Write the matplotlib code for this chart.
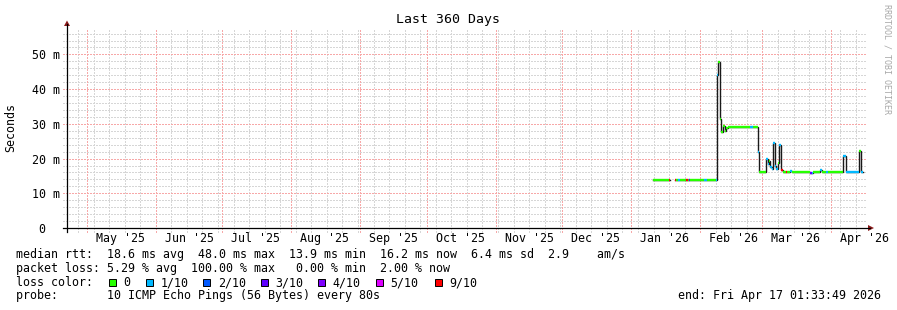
import matplotlib
matplotlib.use('Agg')
import matplotlib.pyplot as plt
import matplotlib.dates as mdates
import numpy as np
import pandas as pd
from matplotlib.lines import Line2D
from matplotlib.patches import Polygon, Rectangle

plt.rcParams['font.family'] = ['DejaVu Sans Mono']

# ---------------- data ----------------
title = "Last 360 Days"
t_start = "2025-04-22 01:33:49"
t_end = "2026-04-17 01:33:49"

# median rtt samples: start of each interval, value in ms, loss class index
sample_times = [
    "2026-01-10 15:00", "2026-01-17 18:00", "2026-01-18 10:00", "2026-01-20 16:00",
    "2026-01-21 08:00", "2026-01-22 00:00", "2026-01-22 17:00", "2026-01-25 11:00",
    "2026-01-26 07:00", "2026-01-26 18:00", "2026-01-27 10:00", "2026-02-02 17:00",
    "2026-02-04 02:00", "2026-02-08 03:00", "2026-02-08 14:00", "2026-02-09 00:00",
    "2026-02-10 03:00", "2026-02-10 14:00", "2026-02-11 06:00", "2026-02-11 23:00",
    "2026-02-12 15:00", "2026-02-13 07:00", "2026-02-23 10:00", "2026-02-24 18:00",
    "2026-02-27 00:00", "2026-02-27 11:00", "2026-03-02 15:00", "2026-03-03 07:00",
    "2026-03-03 23:00", "2026-03-04 15:00", "2026-03-05 08:00", "2026-03-05 18:00",
    "2026-03-06 16:00", "2026-03-07 08:00", "2026-03-08 00:00", "2026-03-08 14:00",
    "2026-03-09 09:00", "2026-03-10 01:00", "2026-03-11 15:00", "2026-03-12 02:00",
    "2026-03-13 10:00", "2026-03-14 08:00", "2026-03-22 10:00", "2026-03-23 08:00",
    "2026-03-23 19:00", "2026-03-26 22:00", "2026-03-27 20:00", "2026-03-29 12:00",
    "2026-03-30 10:00", "2026-04-06 09:00", "2026-04-07 14:00", "2026-04-07 23:00",
    "2026-04-13 12:00", "2026-04-14 10:00",
]
sample_end = "2026-04-15 09:00"
median_ms = [
    13.9, 13.9, np.nan, 13.9,
    13.9, 13.9, 13.9, 13.9,
    13.9, 13.9, 13.9, 13.9,
    13.9, 13.9, 44.0, 47.8,
    31.5, 27.6, 29.4, 27.8,
    28.8, 29.2, 29.2, 29.2,
    22.0, 16.2, 20.0, 18.5,
    19.3, 17.6, 17.0, 24.5,
    18.0, 17.0, 18.6, 24.0,
    16.6, 16.2, 16.2, 16.2,
    16.5, 16.2, 15.8, 15.8,
    16.2, 16.6, 16.2, 16.2,
    16.2, 20.7, 16.2, 16.2,
    22.3, 16.2,
]
loss_idx = [
    0, 6, 0, 6,
    0, 1, 0, 6,
    0, 3, 0, 1,
    0, 1, 1, 0,
    0, 0, 0, 0,
    0, 0, 1, 0,
    1, 0, 1, 1,
    0, 1, 1, 1,
    1, 1, 0, 1,
    6, 0, 6, 0,
    1, 0, 3, 1,
    0, 1, 0, 1,
    0, 1, 1, 1,
    0, 1,
]

loss_labels = ["0", "1/10", "2/10", "3/10", "4/10", "5/10", "9/10"]
loss_colors = ["#26ff00", "#00b8ff", "#0059ff", "#5e00ff", "#7e00ff", "#dd00ff", "#ff0000"]

month_labels = ["May '25", "Jun '25", "Jul '25", "Aug '25", "Sep '25", "Oct '25",
                "Nov '25", "Dec '25", "Jan '26", "Feb '26", "Mar '26", "Apr '26"]
y_tick_values = [0, 10, 20, 30, 40, 50]
y_tick_labels = ["0  ", "10 m", "20 m", "30 m", "40 m", "50 m"]
y_max = 57.6

row_rtt = "median rtt:  18.6 ms avg  48.0 ms max  13.9 ms min  16.2 ms now  6.4 ms sd  2.9    am/s"
row_loss = "packet loss: 5.29 % avg  100.00 % max   0.00 % min  2.00 % now"
row_color = "loss color:"
row_probe = "probe:       10 ICMP Echo Pings (56 Bytes) every 80s"
end_text = "end: Fri Apr 17 01:33:49 2026"
watermark = "RRDTOOL / TOBI OETIKER"

# ---------------- layout ----------------
W, H = 897, 310
fig = plt.figure(figsize=(W / 100, H / 100), dpi=100)
fig.patch.set_facecolor("white")


def fx(px):
    return px / W


def fy(py):
    return 1 - py / H


X0, Y0, PW, PH = 67, 228, 800, 200
ax = fig.add_axes([fx(X0), fy(Y0), PW / W, PH / H])
ax.set_facecolor("white")
for s in ax.spines.values():
    s.set_visible(False)

xs = mdates.date2num(pd.to_datetime(t_start))
xe = mdates.date2num(pd.to_datetime(t_end))
ax.set_xlim(xs, xe)
ax.set_ylim(0, y_max)

MINOR = "#d6d6d6"
MAJOR = "#f7a8a8"
dot = (0, (1.4, 1.4))
lw_grid = 0.72
ext_x = 4 / PW
ext_y = 4 / PH
gkw = dict(lw=lw_grid, ls=dot, clip_on=False, antialiased=False)

# horizontal grid
for v in np.arange(2, y_max, 2):
    if v % 10 == 0:
        continue
    ax.axhline(v, xmin=-ext_x, xmax=1, color=MINOR, zorder=1, **gkw)
for v in y_tick_values[1:]:
    ax.axhline(v, xmin=-ext_x, xmax=1, color=MAJOR, zorder=1.5, **gkw)

# vertical grid
weeks = pd.date_range("2025-04-27", "2026-04-16", freq="W-SUN")
months = pd.date_range("2025-05-01", "2026-04-01", freq="MS")
for d in weeks:
    ax.axvline(mdates.date2num(d), ymin=-ext_y, ymax=1, color=MINOR, zorder=1, **gkw)
for d in months:
    ax.axvline(mdates.date2num(d), ymin=-ext_y, ymax=1, color=MAJOR, zorder=1.5, **gkw)

FS = 8.37
# ticks / labels
label_pos = [mdates.date2num(d + pd.Timedelta(days=15)) for d in months]
ax.set_xticks(label_pos)
ax.set_xticklabels(month_labels)
ax.tick_params(axis="x", length=0, pad=3.0, labelsize=FS)
ax.set_yticks(y_tick_values)
ax.set_yticklabels(y_tick_labels)
ax.tick_params(axis="y", length=0, pad=5.0, labelsize=FS)

# data: dark step line (smoke) + loss-coloured median
t = mdates.date2num(pd.to_datetime(sample_times))
t_last = mdates.date2num(pd.to_datetime(sample_end))
t_bounds = np.append(t, t_last)
v = np.array(median_ms, dtype=float)
sx, sy = [], []
for i in range(len(v)):
    sx += [t_bounds[i], t_bounds[i + 1]]
    sy += [v[i], v[i]]
ax.plot(sx, sy, color="#1a1a1a", lw=1.0, zorder=3, solid_joinstyle="miter")
for i in range(len(v)):
    if np.isnan(v[i]):
        continue
    ax.plot([t_bounds[i], t_bounds[i + 1]], [v[i], v[i]], color=loss_colors[loss_idx[i]],
            lw=1.7, solid_capstyle="butt", zorder=4)

# axis lines with arrows
fig.add_artist(Line2D([fx(X0), fx(X0)], [fy(Y0 + 4), fy(24)], color="black", lw=0.9))
fig.add_artist(Line2D([fx(X0 - 4), fx(870)], [fy(Y0), fy(Y0)], color="black", lw=0.9))
ARROW = "#8b1a1a"
fig.add_artist(Polygon([(fx(64), fy(26)), (fx(70), fy(26)), (fx(67), fy(20.5))],
                       closed=True, color=ARROW, lw=0))
fig.add_artist(Polygon([(fx(868), fy(225)), (fx(868), fy(231)), (fx(874), fy(228))],
                       closed=True, color=ARROW, lw=0))

# texts
fig.text(fx(448), fy(19), title, ha="center", va="center", fontsize=9.5)
fig.text(fx(11), fy(127), "Seconds", ha="center", va="center", rotation=90, fontsize=FS)
fig.text(fx(887), fy(4), watermark, ha="center", va="top", rotation=270, fontsize=6.0,
         color="#a8a8a8")

row_y = [254.5, 268.3, 282.5, 296]
fig.text(fx(16), fy(row_y[0]), row_rtt, ha="left", va="center", fontsize=FS)
fig.text(fx(16), fy(row_y[1]), row_loss, ha="left", va="center", fontsize=FS)
fig.text(fx(16), fy(row_y[2]), row_color, ha="left", va="center", fontsize=FS)
box_x = [109, 145.7, 203.3, 261, 318.3, 376, 435]
for lab, col, bx in zip(loss_labels, loss_colors, box_x):
    fig.add_artist(Rectangle((fx(bx), fy(row_y[2] + 3.5)), 7 / W, 7 / H, facecolor=col,
                             edgecolor="black", lw=0.7))
    fig.text(fx(bx + 14.5), fy(row_y[2]), lab, ha="left", va="center", fontsize=FS)
fig.text(fx(16), fy(row_y[3]), row_probe, ha="left", va="center", fontsize=FS)
fig.text(fx(677.7), fy(row_y[3]), end_text, ha="left", va="center", fontsize=FS)

fig.savefig("out.png", dpi=100, facecolor="white")
